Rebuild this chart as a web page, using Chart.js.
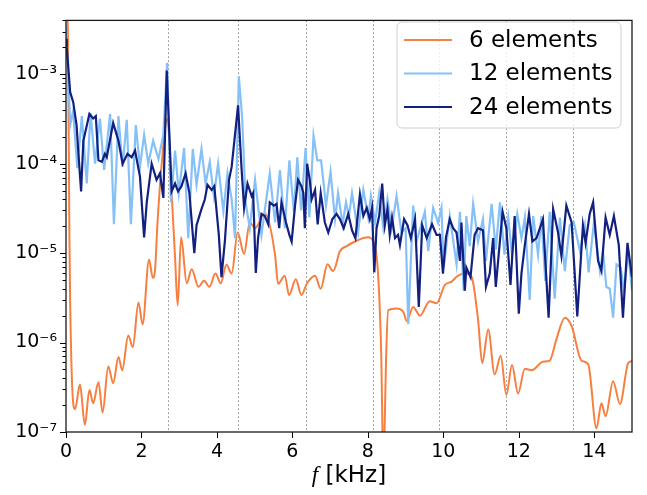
<!DOCTYPE html>
<html lang="en">
<head>
  <meta charset="UTF-8">
  <title>Spectrum vs elements</title>
  <script src="https://cdn.jsdelivr.net/npm/chart.js"></script>
  <style>
    html, body { margin: 0; padding: 0; background: #fff; }
  </style>
</head>
<body>
  <canvas id="chart" width="647" height="495"></canvas>

  <script>
    // frequency [kHz] and amplitude for each mesh
    const freq6 = [0.00, 0.05, 0.09, 0.11, 0.18, 0.24, 0.37, 0.50, 0.62, 0.72, 0.86, 0.97, 1.12, 1.25, 1.39, 1.49,
      1.65, 1.77, 1.92, 2.03, 2.20, 2.30, 2.36, 2.42, 2.53, 2.69, 2.80, 2.89, 2.96, 3.05, 3.20, 3.33, 3.51, 3.66,
      3.80, 3.96, 4.10, 4.25, 4.39, 4.55, 4.72, 4.87, 5.01, 5.27, 5.54, 5.62, 5.80, 5.91, 6.09, 6.24, 6.38, 6.60,
      6.75, 6.93, 7.08, 7.26, 7.44, 7.66, 8.01, 8.14, 8.27, 8.36, 8.39, 8.41, 8.44, 8.48, 8.54, 8.76, 8.94, 9.03,
      9.20, 9.38, 9.64, 9.82, 10.04, 10.22, 10.39, 10.61, 10.75, 10.92, 11.03, 11.19, 11.36, 11.52, 11.67, 11.82,
      11.98, 12.16, 12.34, 12.64, 12.82, 13.00, 13.22, 13.40, 13.66, 13.84, 14.06, 14.19, 14.30, 14.50, 14.68,
      14.90, 15.00];
    const amp6 = [8e-3, 3e-3, 1.6e-5, 2.9e-6, 2.4e-7, 1.8e-7, 3.4e-7, 1.2e-7, 2.95e-7, 2.1e-7, 3.6e-7, 1.65e-7,
      5.4e-7, 3.5e-7, 6.9e-7, 4.9e-7, 1.2e-6, 8.9e-7, 2.8e-6, 1.6e-6, 8.5e-6, 5.3e-6, 6.5e-6, 2.0e-5, 9.3e-5,
      3.2e-4, 4.7e-5, 8.9e-6, 2.6e-6, 1.5e-5, 4.6e-6, 6.6e-6, 4.2e-6, 4.9e-6, 4.2e-6, 5.9e-6, 4.6e-6, 7.4e-6,
      5.9e-6, 1.7e-5, 9.8e-6, 2.2e-5, 1.9e-5, 2.8e-5, 9.6e-6, 4.55e-6, 5.6e-6, 3.4e-6, 5.1e-6, 3.4e-6, 4.55e-6,
      5.6e-6, 4.0e-6, 7.5e-6, 6.3e-6, 1.05e-5, 1.2e-5, 1.35e-5, 1.5e-5, 1.35e-5, 5.9e-6, 5.7e-7, 8e-8, 3e-8,
      9e-8, 6e-7, 2.3e-6, 2.4e-6, 2.2e-6, 1.74e-6, 2.5e-6, 2.0e-6, 2.9e-6, 2.75e-6, 4.4e-6, 4.8e-6, 5.6e-6,
      5.9e-6, 5.4e-6, 1.8e-6, 5.9e-7, 1.4e-6, 4.4e-7, 7.1e-7, 2.6e-7, 5.6e-7, 2.7e-7, 5.1e-7, 4.9e-7, 6.1e-7,
      6.3e-7, 1.1e-6, 1.9e-6, 1.53e-6, 6.3e-7, 5.7e-7, 1.1e-7, 2.1e-7, 1.5e-7, 3.7e-7, 2.05e-7, 5.9e-7, 6.2e-7];

    const freq12 = [0.00, 0.06, 0.11, 0.19, 0.30, 0.42, 0.55, 0.65, 0.77, 0.90, 1.01, 1.17, 1.27, 1.39, 1.50, 1.61,
      1.72, 1.85, 1.96, 2.07, 2.18, 2.31, 2.45, 2.58, 2.68, 2.78, 2.89, 2.99, 3.13, 3.24, 3.36, 3.46, 3.59, 3.70,
      3.81, 3.92, 4.03, 4.17, 4.28, 4.39, 4.48, 4.58, 4.67, 4.76, 4.87, 5.01, 5.18, 5.40, 5.54, 5.67, 5.80, 5.92,
      6.04, 6.13, 6.23, 6.35, 6.45, 6.56, 6.66, 6.76, 6.89, 7.01, 7.13, 7.21, 7.33, 7.42, 7.50, 7.58, 7.74, 7.88,
      8.01, 8.08, 8.19, 8.30, 8.41, 8.52, 8.63, 8.76, 8.89, 9.00, 9.07, 9.20, 9.29, 9.51, 9.60, 9.73, 9.86, 9.95,
      10.01, 10.17, 10.35, 10.44, 10.54, 10.61, 10.70, 10.79, 10.92, 11.05, 11.13, 11.28, 11.39, 11.50, 11.62,
      11.72, 11.82, 11.96, 12.07, 12.16, 12.29, 12.38, 12.51, 12.60, 12.70, 12.82, 12.95, 13.09, 13.22, 13.35,
      13.46, 13.62, 13.75, 13.85, 13.99, 14.15, 14.23, 14.32, 14.41, 14.50, 14.59, 14.70, 14.79, 14.90, 15.00];
    const amp12 = [3.5e-3, 9.6e-4, 2.7e-4, 3.9e-4, 8.9e-5, 3.4e-4, 6.0e-5, 3.7e-4, 1.0e-4, 3.2e-4, 8.5e-5, 3.6e-4,
      2.1e-5, 3.4e-4, 9.2e-5, 3.1e-4, 2.1e-5, 2.7e-4, 9.2e-5, 2.1e-4, 1.0e-4, 1.8e-4, 1.13e-4, 2.1e-4, 1.34e-3,
      3.7e-5, 1.4e-4, 4.7e-5, 1.5e-4, 1.47e-5, 1.46e-4, 5.8e-5, 1.46e-4, 6.0e-5, 1.05e-4, 4.35e-5, 1.0e-4,
      2.95e-5, 7.8e-5, 4.0e-5, 1.47e-5, 9.5e-4, 3.2e-4, 3.7e-5, 1.9e-5, 6.6e-5, 1.6e-5, 7.8e-5, 2.2e-5, 8.5e-5,
      1.9e-5, 1.09e-4, 2.9e-5, 1.18e-4, 3.0e-5, 1.5e-4, 2.5e-5, 2.05e-4, 1.09e-4, 1.09e-4, 3.4e-5, 8.1e-5,
      2.4e-5, 4.7e-5, 2.1e-5, 3.7e-5, 2.6e-5, 4.7e-5, 1.7e-5, 5.1e-5, 2.5e-5, 4.35e-5, 2.2e-5, 4.7e-5, 1.9e-5,
      4.0e-5, 1.9e-5, 4.35e-5, 1.7e-5, 1.9e-5, 1.6e-6, 3.4e-5, 1.35e-5, 2.9e-5, 1.05e-5, 3.2e-5, 2.2e-5, 3.2e-5,
      6.9e-6, 2.6e-5, 7.5e-6, 2.9e-5, 3.8e-6, 2.6e-5, 1.2e-5, 3.55e-5, 1.35e-5, 2.4e-5, 8.2e-6, 3.55e-5, 1.1e-5,
      3.7e-5, 9.6e-6, 2.5e-5, 9.6e-6, 2.75e-5, 1.47e-5, 2.5e-5, 3.0e-6, 2.6e-5, 9.6e-6, 2.6e-5, 4.9e-6, 2.9e-5,
      3.1e-6, 2.5e-5, 6.3e-6, 2.05e-5, 2.2e-5, 1.05e-5, 2.05e-5, 6.1e-6, 2.2e-5, 6.3e-6, 1.05e-5, 4.2e-6,
      4.0e-6, 1.9e-6, 7.5e-6, 6.9e-6, 3.8e-6, 1.05e-5, 3.8e-6];

    const freq24 = [0.00, 0.02, 0.11, 0.19, 0.28, 0.33, 0.40, 0.46, 0.62, 0.72, 0.79, 0.86, 0.95, 1.03, 1.08, 1.25,
      1.39, 1.50, 1.63, 1.74, 1.83, 1.96, 2.07, 2.14, 2.27, 2.40, 2.49, 2.58, 2.67, 2.80, 2.89, 2.97, 3.06, 3.17,
      3.27, 3.40, 3.46, 3.59, 3.68, 3.75, 3.86, 3.93, 4.05, 4.12, 4.21, 4.32, 4.39, 4.56, 4.65, 4.72, 4.81, 4.92,
      4.96, 5.03, 5.09, 5.18, 5.27, 5.36, 5.40, 5.51, 5.58, 5.65, 5.71, 5.83, 5.92, 5.98, 6.07, 6.15, 6.24, 6.29,
      6.33, 6.39, 6.46, 6.51, 6.60, 6.67, 6.75, 6.86, 6.95, 7.06, 7.17, 7.26, 7.36, 7.48, 7.58, 7.67, 7.79, 7.88,
      7.97, 8.05, 8.11, 8.17, 8.23, 8.30, 8.38, 8.45, 8.52, 8.58, 8.64, 8.72, 8.80, 8.85, 8.96, 9.05, 9.14, 9.25,
      9.35, 9.44, 9.56, 9.70, 9.82, 9.91, 9.99, 10.07, 10.17, 10.26, 10.35, 10.44, 10.48, 10.57, 10.61, 10.72,
      10.83, 10.92, 11.05, 11.13, 11.23, 11.32, 11.39, 11.57, 11.67, 11.78, 11.89, 12.00, 12.07, 12.16, 12.27,
      12.36, 12.47, 12.64, 12.79, 12.91, 13.04, 13.13, 13.26, 13.40, 13.55, 13.70, 13.77, 13.88, 13.97, 14.10,
      14.19, 14.30, 14.41, 14.52, 14.65, 14.76, 14.88, 15.00];
    const amp24 = [2.5e-3, 2.0e-3, 6.3e-4, 4.9e-4, 2.7e-4, 1.29e-4, 4.9e-5, 1.8e-4, 3.6e-4, 3.2e-4, 3.4e-4, 1.09e-4,
      1.05e-4, 1.29e-4, 1.18e-4, 2.85e-4, 1.8e-4, 1.0e-4, 1.29e-4, 1.18e-4, 1.4e-4, 7.2e-5, 1.5e-5, 3.7e-5,
      1.0e-4, 6.6e-5, 7.8e-5, 4.15e-5, 1.1e-3, 4.9e-5, 6.0e-5, 4.9e-5, 5.6e-5, 7.8e-5, 4.7e-5, 1.0e-5, 2.05e-5,
      3.1e-5, 4.0e-5, 5.8e-5, 5.1e-5, 5.6e-5, 1.6e-5, 5.4e-6, 1.35e-5, 6.6e-5, 9.2e-5, 4.5e-4, 9.2e-5, 3.2e-5,
      6.0e-5, 4.35e-5, 4.7e-5, 6.0e-6, 1.47e-5, 2.75e-5, 2.6e-5, 2.1e-5, 3.7e-5, 3.4e-5, 3.55e-5, 1.9e-5, 3.7e-5,
      2.2e-5, 1.6e-5, 1.35e-5, 3.4e-5, 6.6e-5, 5.6e-5, 4.7e-5, 1.9e-5, 1.0e-4, 6.6e-5, 4.0e-5, 5.1e-5, 2.1e-5,
      4.7e-5, 2.2e-5, 1.7e-5, 2.4e-5, 2.75e-5, 2.4e-5, 1.9e-5, 2.75e-5, 1.8e-5, 1.47e-5, 4.55e-5, 2.6e-5, 3.2e-5,
      2.4e-5, 3.2e-5, 6.1e-6, 1.9e-5, 2.6e-5, 6.0e-5, 2.05e-5, 3.1e-5, 1.6e-5, 2.5e-5, 1.47e-5, 1.6e-5, 1.23e-5,
      2.4e-5, 2.05e-5, 1.47e-5, 2.4e-5, 2.5e-6, 2.05e-5, 1.47e-5, 2.1e-5, 1.6e-5, 1.6e-5, 5.9e-6, 1.5e-5, 2.4e-5,
      1.9e-5, 1.7e-5, 8.2e-6, 2.2e-5, 3.8e-6, 6.9e-6, 5.4e-6, 1.6e-5, 1.9e-5, 1.8e-5, 4.2e-6, 5.9e-6, 1.47e-5,
      4.2e-6, 2.9e-5, 1.9e-5, 4.4e-6, 2.6e-5, 2.1e-6, 5.9e-6, 1.23e-5, 2.75e-5, 1.35e-5, 1.47e-5, 2.4e-5, 1.9e-6,
      3.1e-5, 1.7e-5, 9.3e-6, 3.4e-5, 2.2e-5, 1.96e-6, 2.05e-5, 1.3e-5, 2.75e-5, 3.7e-5, 8.2e-6, 6.3e-6, 2.5e-5,
      1.6e-5, 2.6e-5, 1.23e-5, 1.9e-6, 1.3e-5, 5.4e-6];

    const seriesLabels = ['6 elements', '12 elements', '24 elements'];
    const seriesColors = ['#f77f3f', '#85c1f7', '#12207f'];
    const xTicks = [0, 2, 4, 6, 8, 10, 12, 14];
    const yExponents = [-7, -6, -5, -4, -3];
    const resonanceLines = [2.71, 4.56, 6.36, 8.13, 9.89, 11.67, 13.43];

    const sup = {'-': '⁻', '0': '⁰', '1': '¹', '2': '²', '3': '³', '4': '⁴', '5': '⁵', '6': '⁶', '7': '⁷', '8': '⁸', '9': '⁹'};
    const powLabel = e => '10' + String(e).split('').map(c => sup[c]).join('');
    const isPow10 = v => Math.abs(Math.log10(v) - Math.round(Math.log10(v))) < 1e-6;

    const toPoints = (fs, as) => fs.map((f, i) => ({ x: f, y: as[i] }));

    const deco = {
      id: 'deco',
      beforeDatasetsDraw(chart) {
        const { ctx, chartArea: a, scales: { x } } = chart;
        ctx.save();
        ctx.strokeStyle = '#8a8a8a';
        ctx.lineWidth = 1;
        ctx.setLineDash([1.5, 2.5]);
        resonanceLines.forEach(f => {
          const px = Math.round(x.getPixelForValue(f)) + 0.5;
          ctx.beginPath();
          ctx.moveTo(px, a.top);
          ctx.lineTo(px, a.bottom);
          ctx.stroke();
        });
        ctx.restore();
      },
      afterDraw(chart) {
        const { ctx, chartArea: a, scales: { x, y } } = chart;
        ctx.save();
        // ticks
        ctx.strokeStyle = '#000';
        ctx.lineWidth = 1;
        y.ticks.forEach(t => {
          const py = Math.round(y.getPixelForValue(t.value)) + 0.5;
          const len = isPow10(t.value) ? 6 : 3.5;
          ctx.beginPath();
          ctx.moveTo(a.left - len, py);
          ctx.lineTo(a.left, py);
          ctx.stroke();
        });
        xTicks.forEach(v => {
          const px = Math.round(x.getPixelForValue(v)) + 0.5;
          ctx.beginPath();
          ctx.moveTo(px, a.bottom);
          ctx.lineTo(px, a.bottom + 6);
          ctx.stroke();
        });
        // frame
        ctx.strokeStyle = '#1a1a1a';
        ctx.lineWidth = 1.3;
        ctx.strokeRect(a.left, a.top, a.right - a.left, a.bottom - a.top);

        // x title
        ctx.fillStyle = '#000';
        ctx.textBaseline = 'alphabetic';
        const fPart = 'f';
        const rest = ' [kHz]';
        ctx.font = 'italic 23px "Liberation Serif"';
        const wF = ctx.measureText(fPart).width;
        ctx.font = '23px "DejaVu Sans"';
        const wR = ctx.measureText(rest).width;
        const cx = (a.left + a.right) / 2;
        let sx = cx - (wF + wR) / 2;
        ctx.font = 'italic 23px "Liberation Serif"';
        ctx.fillText(fPart, sx, 482);
        ctx.font = '23px "DejaVu Sans"';
        ctx.fillText(rest, sx + wF, 482);

        // legend
        const bx = 397, by = 22, bw = 224, bh = 106;
        ctx.beginPath();
        ctx.roundRect(bx, by, bw, bh, 5);
        ctx.fillStyle = 'rgba(255,255,255,0.8)';
        ctx.fill();
        ctx.strokeStyle = '#d0d0d0';
        ctx.lineWidth = 1;
        ctx.stroke();
        ctx.font = '23px "DejaVu Sans"';
        ctx.textBaseline = 'middle';
        chart.data.datasets.forEach((ds, i) => {
          const ry = 40 + i * 33.5;
          ctx.strokeStyle = ds.borderColor;
          ctx.lineWidth = 2.2;
          ctx.beginPath();
          ctx.moveTo(404, ry);
          ctx.lineTo(452, ry);
          ctx.stroke();
          ctx.fillStyle = '#000';
          ctx.fillText(ds.label, 469, ry + 1);
        });
        ctx.restore();
      }
    };

    new Chart(document.getElementById('chart'), {
      type: 'line',
      data: {
        datasets: [
          { label: seriesLabels[0], data: toPoints(freq6, amp6), borderColor: seriesColors[0], borderWidth: 2,
            pointRadius: 0, tension: 0.4, cubicInterpolationMode: 'monotone', order: 3 },
          { label: seriesLabels[1], data: toPoints(freq12, amp12), borderColor: seriesColors[1], borderWidth: 2.2,
            pointRadius: 0, tension: 0, order: 2 },
          { label: seriesLabels[2], data: toPoints(freq24, amp24), borderColor: seriesColors[2], borderWidth: 2.2,
            pointRadius: 0, tension: 0, order: 1 }
        ]
      },
      options: {
        responsive: false,
        animation: false,
        layout: { padding: { top: 10, right: 15, bottom: 0, left: 0 } },
        plugins: { legend: { display: false }, tooltip: { enabled: false } },
        scales: {
          x: {
            type: 'linear',
            min: 0,
            max: 15,
            grid: { display: false, drawTicks: false },
            border: { display: false },
            afterBuildTicks: s => { s.ticks = xTicks.map(v => ({ value: v })); },
            afterFit: s => { s.height = 63; },
            ticks: { color: '#000', font: { family: 'DejaVu Sans', size: 19 }, padding: 9, autoSkip: false, maxRotation: 0 }
          },
          y: {
            type: 'logarithmic',
            min: 1e-7,
            max: 4e-3,
            grid: { display: false, drawTicks: false },
            border: { display: false },
            afterBuildTicks: s => {
              const t = [];
              yExponents.concat([-2]).forEach(e => {
                for (let m = 1; m <= 9; m++) {
                  const v = m * Math.pow(10, e);
                  if (v >= 1e-7 * 0.999 && v <= 4e-3 * 1.001) t.push({ value: v });
                }
              });
              s.ticks = t;
            },
            afterFit: s => { s.width = 66; },
            ticks: {
              color: '#000',
              font: { family: 'DejaVu Sans', size: 19 },
              padding: 9,
              autoSkip: false,
              callback: v => isPow10(v) ? powLabel(Math.round(Math.log10(v))) : ''
            }
          }
        }
      },
      plugins: [deco]
    });
  </script>
</body>
</html>
